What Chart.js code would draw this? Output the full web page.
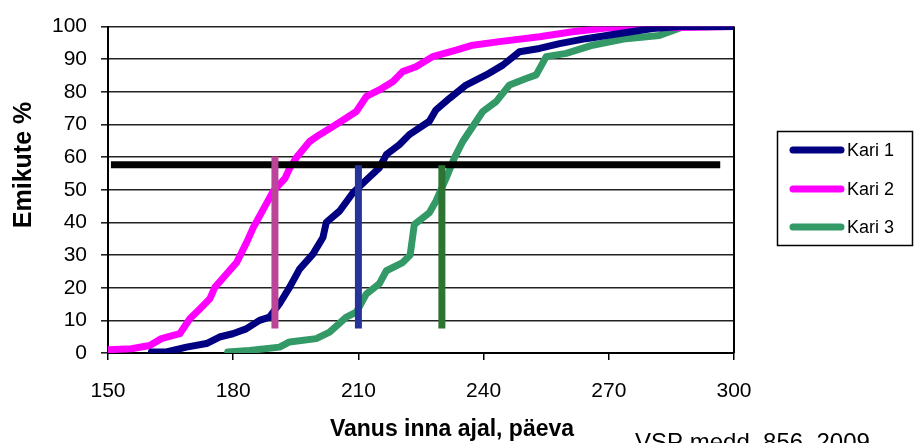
<!DOCTYPE html>
<html>
<head>
<meta charset="utf-8">
<script src="https://cdn.jsdelivr.net/npm/chart.js@4.4.1/dist/chart.umd.min.js"></script>
<style>
  html, body { margin: 0; padding: 0; background: #fff; }
</style>
</head>
<body>
<canvas id="ch" width="915" height="443"></canvas>
<script>
// cumulative share of heifers (%) by age at first insemination (days)
const kari1Days = [160.4, 164, 168.8, 173.6, 176.7, 179.9, 183.1, 186.3, 188.7, 191.1, 193.5, 195.9, 199.1, 201.5, 202.3, 205.5, 208.7, 211.9, 215, 216.7, 219.8, 222.2, 227, 228.6, 231.8, 235.8, 240.6, 244.6, 248.6, 253.4, 258.2, 264.5, 272.6, 280.5, 287, 300];
const kari1Pct  = [0.3, 0.3, 1.8, 2.9, 4.9, 5.9, 7.4, 10, 11, 15.1, 20.1, 25.7, 30.3, 35.4, 40, 43.5, 49.1, 53, 56.7, 60.8, 63.8, 66.9, 71, 74.5, 78, 82.1, 85.2, 88.2, 92.3, 93.3, 94.8, 96.3, 97.9, 99.4, 100, 100];

const kari2Days = [150, 155.6, 160, 162.8, 167.2, 169.6, 172, 174.4, 175.6, 178.4, 180.8, 183.2, 184.8, 187.2, 189.6, 192.4, 193.5, 195.1, 198.3, 200.7, 203.9, 207.1, 209.5, 211.9, 215, 218.3, 220.6, 223.8, 227.8, 233.4, 237.4, 243.8, 253.4, 261.3, 269.3, 287.5, 300];
const kari2Pct  = [1, 1.3, 2.3, 4.4, 5.9, 10.5, 13.5, 16.6, 20.1, 24.2, 27.7, 33.8, 38.4, 44, 49.6, 53.5, 56.5, 59.8, 64.8, 66.9, 69.4, 72, 74, 78.6, 80.6, 83.2, 86.2, 87.7, 90.8, 92.8, 94.3, 95.4, 96.9, 98.4, 99.6, 99.7, 100];

const kari3Days = [178.7, 183.9, 191.1, 193.5, 199.9, 203.1, 207.1, 209.5, 211.9, 215, 216.7, 220.6, 222.4, 223.4, 227, 228.6, 231, 233, 235, 237.4, 239.8, 243, 246.2, 250.2, 252.6, 255, 259.8, 266.1, 274.1, 282.1, 287.7, 300];
const kari3Pct  = [0.3, 0.8, 1.8, 3.4, 4.4, 6.4, 11, 12.5, 18.1, 21.2, 25.2, 27.7, 30, 39.4, 43, 46.6, 53.5, 59.8, 64.8, 69.4, 74, 77, 82.1, 84.1, 85.2, 90.8, 91.8, 94.3, 96.3, 97.3, 99.9, 100];

const herdNames = ['Kari 1', 'Kari 2', 'Kari 3'];
const herdColors = ['#000080', '#ff00ff', '#339966'];

// reference line and median markers
const refLineDays = [150.7, 296.7];
const refLinePct = [57.7, 57.7];
const medianDays = [190, 210, 230];
const medianTop = [60.2, 57.5, 57.5];
const medianBottom = [7.5, 7.5, 7.5];
const medianColors = ['#bb4699', '#26349a', '#2d7433'];

const xTicks = [150, 180, 210, 240, 270, 300];

function pts(xs, ys) {
    return xs.map((x, i) => ({ x: x, y: ys[i] }));
}

const series = [[kari1Days, kari1Pct], [kari2Days, kari2Pct], [kari3Days, kari3Pct]];
const datasets = [];

series.forEach((s, i) => {
    datasets.push({
        label: herdNames[i],
        data: pts(s[0], s[1]),
        borderColor: herdColors[i],
        borderWidth: 7,
        borderJoinStyle: 'round',
        borderCapStyle: 'round',
        showLine: true,
        pointRadius: 0,
        order: 3
    });
});

datasets.push({
    label: 'ref',
    data: pts(refLineDays, refLinePct),
    borderColor: '#000',
    borderWidth: 7,
    showLine: true,
    pointRadius: 0,
    order: 2
});

medianDays.forEach((d, i) => {
    datasets.push({
        label: 'median' + i,
        data: [{ x: d, y: medianBottom[i] }, { x: d, y: medianTop[i] }],
        borderColor: medianColors[i],
        borderWidth: 7,
        showLine: true,
        pointRadius: 0,
        order: 1
    });
});

const extras = {
    id: 'extras',
    afterDraw(chart) {
        const ctx = chart.ctx;
        const a = chart.chartArea;
        ctx.save();
        // right frame
        ctx.strokeStyle = '#000';
        ctx.lineWidth = 2;
        ctx.beginPath();
        ctx.moveTo(a.right, a.top);
        ctx.lineTo(a.right, a.bottom);
        ctx.stroke();

        ctx.fillStyle = '#000';
        ctx.font = 'bold 23px "Liberation Sans", Arial, sans-serif';
        ctx.textAlign = 'center';
        ctx.textBaseline = 'middle';
        ctx.fillText('Vanus inna ajal, päeva', 452, 430);

        ctx.save();
        ctx.translate(24, 165);
        ctx.rotate(-Math.PI / 2);
        ctx.font = 'bold 25px "Liberation Sans", Arial, sans-serif';
        ctx.fillText('Emikute %', 0, 0);
        ctx.restore();

        ctx.font = '24px "Liberation Sans", Arial, sans-serif';
        ctx.textAlign = 'left';
        ctx.textBaseline = 'alphabetic';
        ctx.fillText('VSP medd. 856, 2009', 635, 450);

        // legend
        ctx.lineWidth = 1.5;
        ctx.strokeRect(777.5, 131.5, 135, 114);
        const ly = [150, 189, 227];
        ctx.font = '18px "Liberation Sans", Arial, sans-serif';
        ctx.textBaseline = 'middle';
        herdNames.forEach((n, i) => {
            ctx.strokeStyle = herdColors[i];
            ctx.lineWidth = 7;
            ctx.lineCap = 'round';
            ctx.beginPath();
            ctx.moveTo(793, ly[i]);
            ctx.lineTo(841, ly[i]);
            ctx.stroke();
            ctx.fillText(n, 847, ly[i] + 1);
        });
        ctx.restore();
    }
};

new Chart(document.getElementById('ch').getContext('2d'), {
    type: 'scatter',
    data: { datasets: datasets },
    options: {
        responsive: false,
        animation: false,
        events: [],
        layout: { padding: { left: 0, right: 181, top: 24, bottom: 0 } },
        plugins: { legend: { display: false }, tooltip: { enabled: false } },
        scales: {
            x: {
                type: 'linear',
                min: 150,
                max: 300,
                afterBuildTicks: (s) => { s.ticks = xTicks.map(v => ({ value: v })); },
                afterFit: (s) => { s.height = 90; },
                grid: { drawOnChartArea: false, drawTicks: true, tickLength: 7, color: '#000', lineWidth: 1.5 },
                border: { color: '#000', width: 2 },
                ticks: { color: '#000', font: { family: '"Liberation Sans", Arial', size: 21 }, padding: 19, maxRotation: 0 }
            },
            y: {
                min: 0,
                max: 100,
                afterFit: (s) => { s.width = 108; },
                grid: { color: '#222', lineWidth: 1.6, drawTicks: true, tickLength: 7 },
                border: { color: '#000', width: 2 },
                ticks: { stepSize: 10, color: '#000', font: { family: '"Liberation Sans", Arial', size: 21 }, padding: 14 }
            }
        }
    },
    plugins: [extras]
});
</script>
</body>
</html>
